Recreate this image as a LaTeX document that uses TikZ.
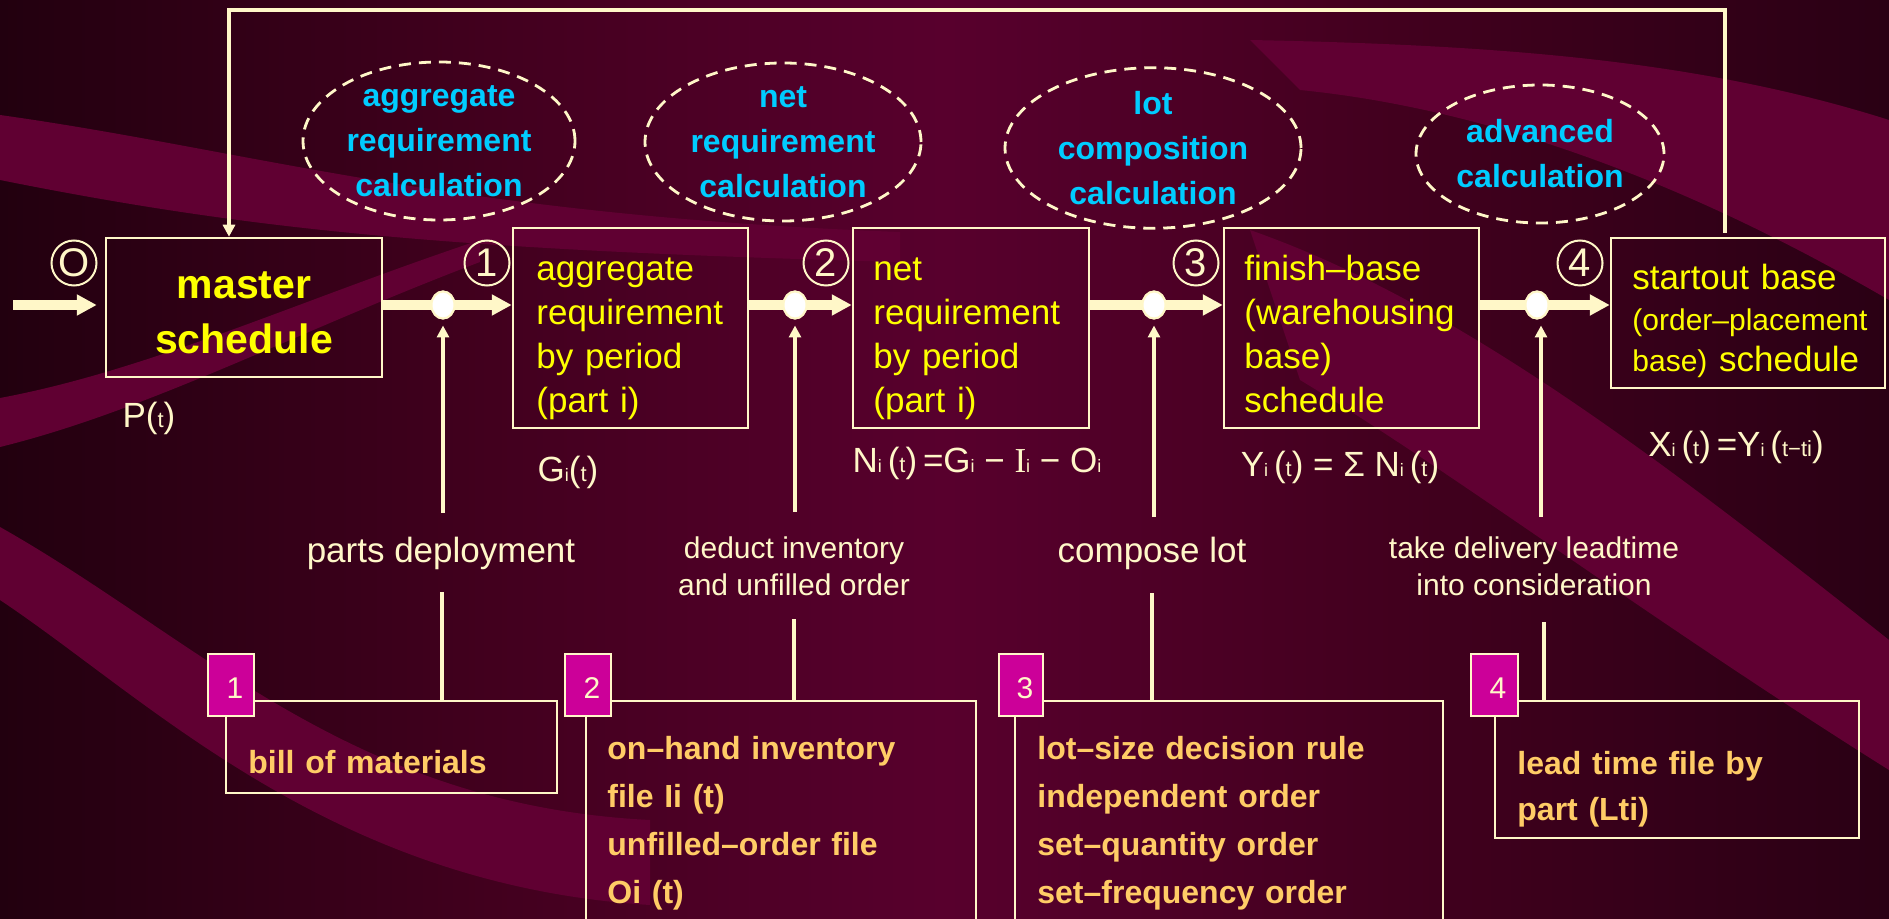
\documentclass[tikz,border=0pt]{standalone}
\usepackage{fontspec}
\setmainfont{Liberation Sans}
\newfontfamily\serifI{Liberation Serif}
\usetikzlibrary{arrows.meta,shapes.geometric,fit}
\definecolor{cream}{HTML}{FFF7C8}
\definecolor{ylw}{HTML}{FFFF00}
\definecolor{cyn}{HTML}{00CCFF}
\definecolor{orng}{HTML}{FFCC66}
\definecolor{mag}{HTML}{CC0099}
\definecolor{bgA}{HTML}{22000F}
\definecolor{bgB}{HTML}{42001E}
\definecolor{bgC}{HTML}{58002D}
\definecolor{bgD}{HTML}{2A0014}
\definecolor{band}{HTML}{600032}
\pgfdeclarehorizontalshading{bgshade}{100bp}{color(0bp)=(bgA); color(25bp)=(bgA); color(38bp)=(bgB); color(50bp)=(bgC); color(62bp)=(bgB); color(75bp)=(bgD); color(100bp)=(bgD)}
\newcommand\fs[2]{\fontsize{#1}{#2}\selectfont}
\newcommand\lo[1]{{\fontsize{9}{9}\selectfont #1}}
\newcommand\smt[1]{{\fontsize{11}{11}\selectfont #1}}
\tikzset{
  box/.style={draw=cream, line width=1.25pt, inner sep=0pt},
  btxt/.style={anchor=base west, inner sep=0pt, align=left, text width=160pt, text=ylw, font=\fs{17.5}{22}},
  otxt/.style={anchor=base west, inner sep=0pt, align=left, text width=220pt, text=orng, font=\bfseries\fs{16}{24}},
  calc/.style={ellipse, draw=cream, line width=1.4pt, dash pattern=on 6pt off 4pt, inner sep=0pt, text=cyn, font=\bfseries\fs{16}{22.5}, align=center},
  lab/.style={text=cream, font=\fs{17.5}{21}, inner sep=0pt, align=center},
  slab/.style={text=cream, font=\fs{15}{18.5}, inner sep=0pt, align=center},
  jdot/.style={ellipse, fill=white, draw=cream, line width=1pt, minimum width=11.5pt, minimum height=13.5pt, inner sep=0pt},
  cnum/.style={circle, draw=cream, line width=1pt, minimum size=22.5pt, inner sep=0pt, text=cream, font=\fs{20}{20}},
  tagbox/.style={draw=cream, fill=mag, line width=1.25pt, inner sep=0pt},
  tagnum/.style={text=cream, font=\fs{15}{15}, inner sep=0pt},
  mainline/.style={draw=cream, line width=5pt, -{Triangle[length=10pt,width=10pt]}},
  thinarr/.style={draw=cream, line width=2pt, -{Triangle[length=6pt,width=6pt]}},
  thinline/.style={draw=cream, line width=2pt}
}
\begin{document}
\begin{tikzpicture}[x=0.5pt,y=-0.5pt]
\useasboundingbox (0,0) rectangle (1889,919);
\clip (0,0) rectangle (1889,919);
% background
\shade[shading=bgshade] (0,0) rectangle (1889,919);
\fill[band] (0,115) .. controls (250,150) and (450,215) .. (900,232) -- (900,262) .. controls (450,250) and (250,230) .. (0,180) -- cycle;
\fill[band] (0,398) .. controls (150,370) and (300,300) .. (480,240) -- (480,262) .. controls (300,330) and (150,410) .. (0,447) -- cycle;
\fill[band] (0,527) .. controls (200,640) and (350,805) .. (650,820) -- (650,905) .. controls (330,885) and (150,700) .. (0,600) -- cycle;
\fill[band] (1250,40) .. controls (1500,45) and (1700,60) .. (1889,120) -- (1889,300) .. controls (1700,190) and (1500,110) .. (1300,90) -- cycle;
\fill[band] (1250,230) .. controls (1450,300) and (1650,450) .. (1889,640) -- (1889,770) .. controls (1650,620) and (1450,470) .. (1300,380) -- cycle;

% ellipses
\node[calc, minimum width=136pt, minimum height=79pt] (e1) at (439,141) {aggregate\\requirement\\calculation};
\node[calc, minimum width=138pt, minimum height=79pt] (e2) at (783,142) {net\\requirement\\calculation};
\node[calc, minimum width=148pt, minimum height=77pt] (e3) at (1153,148) {lot\\composition\\calculation};
\node[calc, minimum width=124pt, minimum height=69pt] (e4) at (1540,154) {advanced\\calculation};

% main boxes
\node[box, fit={(106,238) (382,377)}] (master) {};
\node[text=ylw, font=\bfseries\fs{20.5}{20.5}, inner sep=0pt] (mt1) at (244,285) {master};
\node[text=ylw, font=\bfseries\fs{20.5}{20.5}, inner sep=0pt] (mt2) at (244,339) {schedule};
\node[box, fit={(513,228) (748,428)}] (box1) {};
\node[box, fit={(853,228) (1089,428)}] (box2) {};
\node[box, fit={(1224,228) (1479,428)}] (box3) {};
\node[box, fit={(1611,238) (1885,388)}] (box4) {};
\node[btxt] (t1) at (536,281) {aggregate\\requirement\\by period\\(part i)};
\node[btxt] (t2) at (873,281) {net\\requirement\\by period\\(part i)};
\node[btxt] (t3) at (1244,281) {finish–base\\(warehousing\\base)\\schedule};
\node[btxt, font=\fs{17.5}{20.5}] (t4) at (1632,290) {startout base\\{\fs{15}{20.5}(order–placement}\\{\fs{15}{20.5}base)} schedule};

% dots and numbers
\node[jdot] (d1) at (443,305) {};
\node[jdot] (d2) at (795,305) {};
\node[jdot] (d3) at (1154,305) {};
\node[jdot] (d4) at (1537,305) {};
\node[cnum] (c0) at (74,263) {O};
\node[cnum] (c1) at (487,263) {1};
\node[cnum] (c2) at (826,263) {2};
\node[cnum] (c3) at (1196,263) {3};
\node[cnum] (c4) at (1580,263) {4};

% flow
\coordinate (in) at (13,305);
\draw[mainline, shorten >=4pt] (in) -- (master.west |- d1);
\draw[mainline] (master.east |- d1) -- (box1.west |- d1);
\draw[mainline] (box1.east |- d2) -- (box2.west |- d2);
\draw[mainline] (box2.east |- d3) -- (box3.west |- d3);
\draw[mainline] (box3.east |- d4) -- (box4.west |- d4);
\node[jdot] (d1b) at (d1) {};
\node[jdot] (d2b) at (d2) {};
\node[jdot] (d3b) at (d3) {};
\node[jdot] (d4b) at (d4) {};

% feedback
\coordinate (fbR) at (1725,233);
\coordinate (fbT) at (229,10);
\draw[thinarr, line width=2.2pt] (fbR) |- (fbT) -- (fbT |- master.north);

% formulas
\node[lab] (pt) at (149,418) {P(\smt{t})};
\node[lab] (gt) at (568,472) {G\lo{i}(\smt{t})};
\node[lab] (nt) at (977,463) {N\lo{i}\,(\smt{t})\,=G\lo{i} − {\serifI I}\lo{i} − O\lo{i}};
\node[lab] (yt) at (1340,467) {Y\lo{i}\,(\smt{t}) = Σ N\lo{i}\,(\smt{t})};
\node[lab] (xt) at (1736,447) {X\lo{i}\,(\smt{t})\,=Y\lo{i}\,(\smt{t−ti})};

% side labels
\node[lab] (pd) at (441,553) {parts deployment};
\node[slab] (di) at (794,566) {deduct inventory\\and unfilled order};
\node[lab] (cl) at (1152,553) {compose lot};
\node[slab] (td) at (1534,566) {take delivery leadtime\\into consideration};

% upward arrows
\coordinate (u1) at (443,513);
\coordinate (u2) at (795,512);
\coordinate (u3) at (1154,517);
\coordinate (u4) at (1541,517);
\draw[thinarr, shorten >=3pt] (u1) -- (u1 |- d1.south);
\draw[thinarr, shorten >=3pt] (u2) -- (u2 |- d2.south);
\draw[thinarr, shorten >=3pt] (u3) -- (u3 |- d3.south);
\draw[thinarr, shorten >=3pt] (u4) -- (u4 |- d4.south);

% bottom boxes
\node[box, fit={(226,701) (557,793)}] (B1) {};
\node[box, fit={(586,701) (976,940)}] (B2) {};
\node[box, fit={(1015,701) (1443,940)}] (B3) {};
\node[box, fit={(1495,701) (1859,838)}] (B4) {};
\node[tagbox, fit={(208,654) (254,716)}] (g1) {};
\node[tagbox, fit={(565,654) (611,716)}] (g2) {};
\node[tagbox, fit={(999,654) (1043,716)}] (g3) {};
\node[tagbox, fit={(1471,654) (1518,716)}] (g4) {};
\node[tagnum] (n1) at (235,688) {1};
\node[tagnum] (n2) at (592,688) {2};
\node[tagnum] (n3) at (1025,688) {3};
\node[tagnum] (n4) at (1498,688) {4};
\node[otxt] (o1) at (248,773) {bill of materials};
\node[otxt] (o2) at (607,759) {on–hand inventory\\file Ii (t)\\unfilled–order file\\Oi (t)};
\node[otxt] (o3) at (1037,759) {lot–size decision rule\\independent order\\set–quantity order\\set–frequency order};
\node[otxt, font=\bfseries\fs{16}{23}] (o4) at (1517,774) {lead time file by\\part (Lti)};

% lower connectors
\coordinate (l1) at (442,592);
\coordinate (l2) at (794,619);
\coordinate (l3) at (1152,593);
\coordinate (l4) at (1544,622);
\draw[thinline] (l1) -- (l1 |- B1.north);
\draw[thinline] (l2) -- (l2 |- B2.north);
\draw[thinline] (l3) -- (l3 |- B3.north);
\draw[thinline] (l4) -- (l4 |- B4.north);
\end{tikzpicture}
\end{document}
